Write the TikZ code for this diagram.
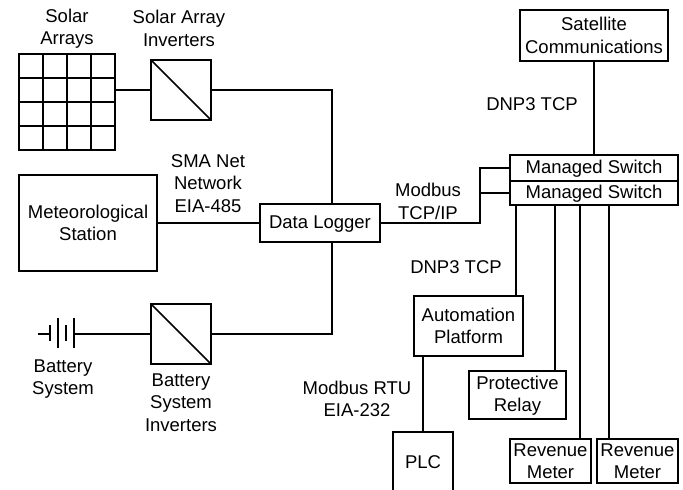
\documentclass[tikz,border=0pt]{standalone}
\usepackage{fontspec}
\setmainfont{Liberation Sans}
\tikzset{
    box/.style n args={2}{draw, rectangle, inner sep=0pt, outer sep=0pt, align=center, minimum width=#1, minimum height=#2},
    lbl/.style={align=center, inner sep=0pt}
}
\begin{document}
\begin{tikzpicture}[x=1pt, y=-1pt, line width=1.7pt, font=\fontsize{18.5}{22.5}\selectfont]
    \useasboundingbox (0,0) rectangle (683,490);

    % sources
    \node[box={96pt}{96pt}] (solar) at (67,102) {};
    \foreach \i in {24,48,72} {
        \draw (solar.north west) ++(\i pt,0) -- ++(0,-96pt);
        \draw (solar.north west) ++(0,-\i pt) -- ++(96pt,0);
    }
    \node[box={60pt}{60pt}] (solarinv) at (181,90) {};
    \draw (solarinv.north west) -- (solarinv.south east);
    \node[box={138pt}{96pt}] (met) at (88,223) {Meteorological\\Station};
    \node[box={60pt}{60pt}] (batinv) at (181,334) {};
    \draw (batinv.north west) -- (batinv.south east);

    % battery symbol
    \coordinate (battin) at (38,334);
    \coordinate (battout) at (74,334);
    \draw (battin) -- (50,334);
    \draw (50,325) -- (50,341);
    \draw (58,318) -- (58,348);
    \draw (66,325) -- (66,341);
    \draw (74,318) -- (74,348);

    % middle and right boxes
    \node[box={120pt}{38pt}, text depth=2pt] (logger) at (320,223) {Data Logger};
    \node[box={148pt}{51pt}] (sat) at (594,35.5) {Satellite\\Communications};
    \node[box={168pt}{26pt}, text depth=2pt] (swa) at (594,168) {Managed Switch};
    \node[box={168pt}{24pt}, text depth=2pt] (swb) at (594,193) {Managed Switch};
    \node[box={109pt}{60pt}] (auto) at (468.5,326) {Automation\\Platform};
    \node[box={97pt}{48pt}, text depth=2pt] (relay) at (517.5,395) {Protective\\Relay};
    \node[box={81pt}{44pt}] (meta) at (550.5,461) {Revenue\\Meter};
    \node[box={81pt}{44pt}] (metb) at (637.5,461) {Revenue\\Meter};
    \node[box={60pt}{60pt}] (plc) at (423,462) {PLC};

    % labels
    \node[lbl] (solarlbl) at (67,28.5) {Solar\\Arrays};
    \node[lbl] (invlbl) at (179,28.5) {Solar Array\\Inverters};
    \node[lbl] (smalbl) at (208,183.5) {SMA Net\\Network\\EIA-485};
    \node[lbl] (battlbl) at (63,379) {Battery\\System};
    \node[lbl] (batinvlbl) at (181,402.5) {Battery\\System\\Inverters};
    \node[lbl] (modlbl) at (428,201.5) {Modbus\\TCP/IP};
    \node[lbl] (dnpa) at (532,104) {DNP3 TCP};
    \node[lbl] (dnpb) at (456,267) {DNP3 TCP};
    \node[lbl] (rtulbl) at (357,399) {Modbus RTU\\EIA-232};

    % connections
    \coordinate (bus) at (480,223);
    \draw (solar.east |- solarinv.west) -- (solarinv.west);
    \draw (solarinv.east) -| ([xshift=12pt]logger.north);
    \draw (met.east) -- (logger.west);
    \draw (battout) -- (batinv.west);
    \draw (batinv.east) -| ([xshift=12pt]logger.south);
    \draw (logger.east) -- (bus) -- (bus |- swa.west) -- (swa.west);
    \draw (bus |- swb.west) -- (swb.west);
    \draw (sat.south) -- (swa.north);
    \draw ([xshift=-78pt]swb.south) -- ([xshift=47.5pt]auto.north);
    \draw ([xshift=-39pt]swb.south) -- ([xshift=37.5pt]relay.north);
    \draw ([xshift=-14pt]swb.south) -- ([xshift=29.5pt]meta.north);
    \draw ([xshift=15pt]swb.south) -- ([xshift=-28.5pt]metb.north);
    \draw (auto.south -| plc.north) -- (plc.north);
\end{tikzpicture}
\end{document}
